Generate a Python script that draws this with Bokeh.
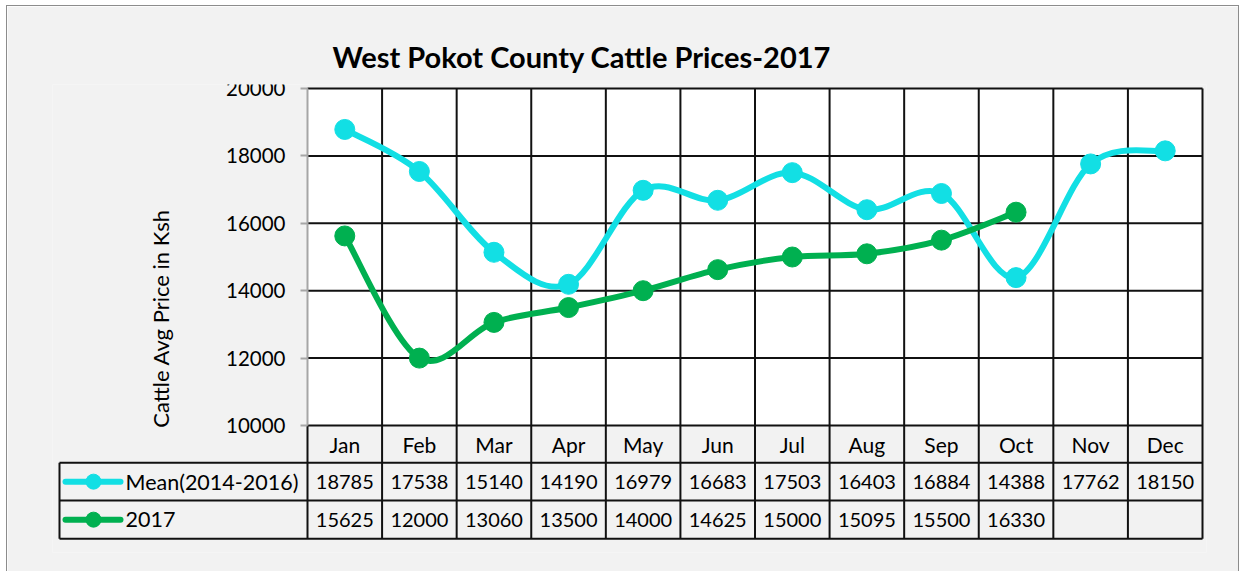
from bokeh.plotting import figure
from bokeh.models import LinearAxis, FixedTicker, Range1d
from bokeh.core.properties import value
from bokeh.embed import file_html
from bokeh.resources import INLINE

# ---------------- data ----------------
months = ["Jan", "Feb", "Mar", "Apr", "May", "Jun", "Jul", "Aug", "Sep", "Oct", "Nov", "Dec"]
mean_2014_2016 = [18785, 17538, 15140, 14190, 16979, 16683, 17503, 16403, 16884, 14388, 17762, 18150]
prices_2017 = [15625, 12000, 13060, 13500, 14000, 14625, 15000, 15095, 15500, 16330, None, None]
series_names = ["Mean(2014-2016)", "2017"]
series_values = [mean_2014_2016, prices_2017]
series_colors = ["#12DFE4", "#00B050"]
y_ticks = [10000, 12000, 14000, 16000, 18000, 20000]
chart_title = "West Pokot County Cattle Prices-2017"
y_label = "Cattle Avg Price in Ksh"

# ---------------- layout (page pixels) ----------------
W, H = 1233, 566
ORIGIN_X, ORIGIN_Y = 7, 6
PLOT_L, PLOT_R = 307, 1202
Y_TOP_PX, Y_BOT_PX = 88, 425
FRAME_L, FRAME_R, FRAME_T, FRAME_B = 52, 1206, 84, 552
TABLE_L = 59
ROW_PX = [37.3, 37.7, 38.3]
FONT = "Lato"

n = len(months)
col_px = (PLOT_R - PLOT_L) / n
y_min, y_max = y_ticks[0], y_ticks[-1]
unit_per_px = (y_max - y_min) / (Y_BOT_PX - Y_TOP_PX)


def dx(px):
    return (px - PLOT_L) / col_px


def dy(py):
    return y_min - (py - Y_BOT_PX) * unit_per_px


p = figure(
    width=W, height=H,
    x_range=Range1d(dx(FRAME_L), dx(FRAME_R)),
    y_range=Range1d(dy(FRAME_B), dy(FRAME_T)),
    x_axis_location=None, y_axis_location=None,
    output_backend="svg", toolbar_location=None,
    min_border_left=FRAME_L - ORIGIN_X, min_border_right=ORIGIN_X + W - FRAME_R,
    min_border_top=FRAME_T - ORIGIN_Y, min_border_bottom=ORIGIN_Y + H - FRAME_B,
    title=chart_title,
    styles={"border-left": "1px solid #8c8c8c", "border-top": "1px solid #8c8c8c",
            "border-right": "1px solid #8c8c8c", "margin-left": "6px", "margin-top": "5px"},
)
p.background_fill_color = "#f2f2f2"
p.border_fill_color = "#f2f2f2"
p.outline_line_color = None
p.xgrid.visible = False
p.ygrid.visible = False

p.title.text_font = FONT
p.title.text_font_size = "29px"
p.title.text_font_style = "bold"
p.title.text_color = "#000000"
p.title.align = "left"
p.title.offset = 332 - FRAME_L
p.title.standoff = 22

# white plot area
p.quad(left=0, right=n, bottom=y_min, top=y_max, fill_color="white", line_color=None)

# table row boundaries
r_edges = [y_min]
acc = Y_BOT_PX
for h in ROW_PX:
    acc += h
    r_edges.append(dy(acc))
x_tab = dx(TABLE_L)

# horizontal lines
hx0, hx1, hy = [], [], []
for t in y_ticks:
    hx0.append(0); hx1.append(n); hy.append(t)
for e in r_edges[1:]:
    hx0.append(x_tab); hx1.append(n); hy.append(e)
p.segment(x0=hx0, y0=hy, x1=hx1, y1=hy, line_color="#111111", line_width=2)

# vertical lines
vx = list(range(1, n + 1))
p.segment(x0=vx, y0=[r_edges[-1]] * n, x1=vx, y1=[y_max] * n, line_color="#111111", line_width=2)
p.segment(x0=[0, x_tab], y0=[r_edges[-1], r_edges[-1]], x1=[0, x_tab], y1=[y_min, r_edges[1]],
          line_color="#111111", line_width=2)
p.segment(x0=[0], y0=[y_min], x1=[0], y1=[y_max], line_color="#a6a6a6", line_width=2)

# y axis
yaxis = LinearAxis(fixed_location=0, ticker=FixedTicker(ticks=y_ticks))
yaxis.axis_line_color = None
yaxis.major_tick_line_color = "#a6a6a6"
yaxis.major_tick_line_width = 2
yaxis.major_tick_out = 7
yaxis.major_tick_in = 0
yaxis.minor_tick_line_color = None
yaxis.major_label_text_font = FONT
yaxis.major_label_text_font_size = "20.5px"
yaxis.major_label_text_color = "#000000"
yaxis.major_label_standoff = 15
yaxis.axis_label = y_label
yaxis.axis_label_text_font = FONT
yaxis.axis_label_text_font_size = "22px"
yaxis.axis_label_text_font_style = "normal"
yaxis.axis_label_text_color = "#000000"
yaxis.axis_label_standoff = 49
p.add_layout(yaxis, "left")


# smoothed series (Excel-like smoothing via cubic Bezier segments)
def bezier_parts(xs, ys, t=1 / 6):
    out = {k: [] for k in ("x0", "y0", "x1", "y1", "cx0", "cy0", "cx1", "cy1")}
    m = len(xs)
    for i in range(m - 1):
        i0 = max(i - 1, 0)
        i3 = min(i + 2, m - 1)
        out["x0"].append(xs[i]); out["y0"].append(ys[i])
        out["x1"].append(xs[i + 1]); out["y1"].append(ys[i + 1])
        out["cx0"].append(xs[i] + (xs[i + 1] - xs[i0]) * t)
        out["cy0"].append(ys[i] + (ys[i + 1] - ys[i0]) * t)
        out["cx1"].append(xs[i + 1] - (xs[i3] - xs[i]) * t)
        out["cy1"].append(ys[i + 1] - (ys[i3] - ys[i]) * t)
    return out


for vals, col in zip(series_values, series_colors):
    xs = [i + 0.5 for i, v in enumerate(vals) if v is not None]
    ys = [v for v in vals if v is not None]
    bp = bezier_parts(xs, ys)
    p.bezier(line_color=col, line_width=6, line_cap="round", **bp)
    p.scatter(xs, ys, size=20, fill_color=col, line_color=col)

# table text
txt = dict(text_font=value(FONT), text_color="#000000", text_baseline="middle")
row_mid = [(r_edges[k] + r_edges[k + 1]) / 2 for k in range(3)]
p.text(x=[i + 0.5 for i in range(n)], y=[row_mid[0]] * n, text=months, text_align="center",
       text_font_size="21px", **txt)
for k, vals in enumerate(series_values):
    xs = [i + 0.5 for i, v in enumerate(vals) if v is not None]
    labels = [str(v) for v in vals if v is not None]
    p.text(x=xs, y=[row_mid[k + 1]] * len(xs), text=labels, text_align="center",
           text_font_size="20px", **txt)

# legend keys inside the table
for k, (name, col) in enumerate(zip(series_names, series_colors)):
    ym = row_mid[k + 1]
    p.segment(x0=[dx(TABLE_L + 6)], y0=[ym], x1=[dx(TABLE_L + 61)], y1=[ym],
              line_color=col, line_width=6, line_cap="round")
    p.scatter([dx(TABLE_L + 34)], [ym], size=15, fill_color=col, line_color=col)
    p.text(x=[dx(TABLE_L + 66)], y=[ym], text=[name], text_align="left",
           text_font_size="21.5px", **txt)

open("out.html", "w").write(file_html(p, INLINE))
